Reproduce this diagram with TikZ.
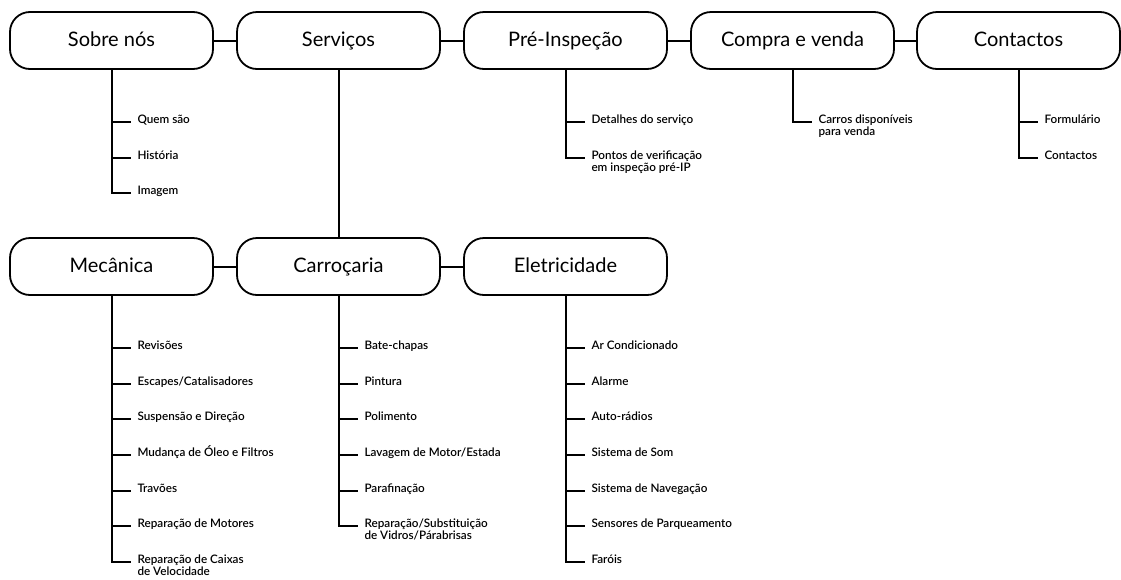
\documentclass[tikz,border=0pt]{standalone}
\usepackage{fontspec}
\setmainfont{Lato}
\newfontfamily\itemfont{Lato}[UprightFont={* Semibold}]
\begin{document}
\begin{tikzpicture}[x=1pt,y=-1pt,
  box/.style={draw, line width=1.8pt, rounded corners=20pt, minimum width=203pt, minimum height=57pt, inner sep=0pt, text height=15pt, text depth=2.8pt, font=\fontsize{20}{24}\selectfont},
  item/.style={anchor=base west, inner xsep=7pt, inner ysep=0pt, outer sep=0pt, align=left, font=\itemfont\fontsize{11.7}{12}\selectfont},
  link/.style={line width=2pt},
  tick/.style={line width=2pt}]
\useasboundingbox (0,0) rectangle (1121,579);
% top row
\node[box] (sobre) at (111.5,40.5) {Sobre nós};
\node[box] (serv)  at (338.5,40.5) {Serviços};
\node[box] (pre)   at (565.5,40.5) {Pré-Inspeção};
\node[box] (compra) at (792.5,40.5) {Compra e venda};
\node[box] (cont)  at (1018.5,40.5) {Contactos};
% bottom row
\node[box] (mec)  at (111.5,266.5) {Mecânica};
\node[box] (carr) at (338.5,266.5) {Carroçaria};
\node[box] (elet) at (565.5,266.5) {Eletricidade};
% box links
\draw[link] (sobre) -- (serv);
\draw[link] (serv) -- (pre);
\draw[link] (pre) -- (compra);
\draw[link] (compra) -- (cont);
\draw[link] (mec) -- (carr);
\draw[link] (carr) -- (elet);
\draw[link] (serv) -- (carr);
% Sobre nós items
\node[item] (s1) at (130.5,123.5) {Quem são};
\node[item] (s2) at (130.5,159.2) {História};
\node[item] (s3) at (130.5,194.8) {Imagem};
% Pré-Inspeção items
\node[item] (p1) at (584.5,123.5) {Detalhes do serviço};
\node[item] (p2) at (584.5,171.2) {Pontos de verificação\\em inspeção pré-IP};
% Compra e venda items
\node[item] (c1) at (811.5,135.5) {Carros disponíveis\\para venda};
% Contactos items
\node[item] (k1) at (1037.5,123.5) {Formulário};
\node[item] (k2) at (1037.5,159.2) {Contactos};
% Mecânica items
\node[item] (m1) at (130.5,349.5) {Revisões};
\node[item] (m2) at (130.5,385.2) {Escapes/Catalisadores};
\node[item] (m3) at (130.5,420.8) {Suspensão e Direção};
\node[item] (m4) at (130.5,456.5) {Mudança de Óleo e Filtros};
\node[item] (m5) at (130.5,492.2) {Travões};
\node[item] (m6) at (130.5,527.8) {Reparação de Motores};
\node[item] (m7) at (130.5,575.5) {Reparação de Caixas\\de Velocidade};
% Carroçaria items
\node[item] (r1) at (357.5,349.5) {Bate-chapas};
\node[item] (r2) at (357.5,385.2) {Pintura};
\node[item] (r3) at (357.5,420.8) {Polimento};
\node[item] (r4) at (357.5,456.5) {Lavagem de Motor/Estada};
\node[item] (r5) at (357.5,492.2) {Parafinação};
\node[item] (r6) at (357.5,539.8) {Reparação/Substituição\\de Vidros/Párabrisas};
% Eletricidade items
\node[item] (e1) at (584.5,349.5) {Ar Condicionado};
\node[item] (e2) at (584.5,385.2) {Alarme};
\node[item] (e3) at (584.5,420.8) {Auto-rádios};
\node[item] (e4) at (584.5,456.5) {Sistema de Som};
\node[item] (e5) at (584.5,492.2) {Sistema de Navegação};
\node[item] (e6) at (584.5,527.8) {Sensores de Parqueamento};
\node[item] (e7) at (584.5,563.5) {Faróis};
% ticks (single-line items)
\foreach \p/\c in {sobre/s1,sobre/s2,sobre/s3,pre/p1,cont/k1,cont/k2,
  mec/m1,mec/m2,mec/m3,mec/m4,mec/m5,mec/m6,
  carr/r1,carr/r2,carr/r3,carr/r4,carr/r5,
  elet/e1,elet/e2,elet/e3,elet/e4,elet/e5,elet/e6,elet/e7}
  \draw[tick] (\p.south) |- ([yshift=1.5pt]\c.base west);
% ticks (two-line items, aligned with first line)
\foreach \p/\c in {pre/p2,compra/c1,mec/m7,carr/r6}
  \draw[tick] (\p.south) |- ([yshift=13.5pt]\c.base west);
\end{tikzpicture}
\end{document}
